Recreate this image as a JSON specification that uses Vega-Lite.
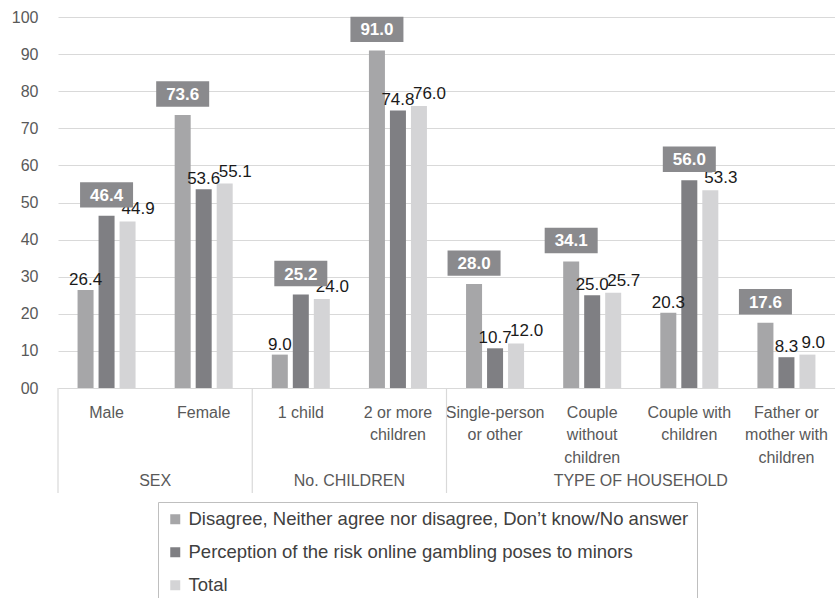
{
  "$schema": "https://vega.github.io/schema/vega-lite/v6.json",
  "autosize": "none",
  "width": 777,
  "height": 371,
  "padding": {"left": 58, "top": 17, "right": 0, "bottom": 210},
  "background": "white",
  "config": {
    "view": {"stroke": null},
    "font": "Liberation Sans",
    "text": {"font": "Liberation Sans"},
    "axisY": {"tickCount": 11}
  },
  "datasets": {
    "bars": [
      {"cat": "Male", "series": "Disagree, Neither agree nor disagree, Don’t know/No answer", "v": 26.4},
      {"cat": "Male", "series": "Perception of the risk online gambling poses to minors", "v": 46.4},
      {"cat": "Male", "series": "Total", "v": 44.9},
      {"cat": "Female", "series": "Disagree, Neither agree nor disagree, Don’t know/No answer", "v": 73.6},
      {"cat": "Female", "series": "Perception of the risk online gambling poses to minors", "v": 53.6},
      {"cat": "Female", "series": "Total", "v": 55.1},
      {"cat": "1 child", "series": "Disagree, Neither agree nor disagree, Don’t know/No answer", "v": 9.0},
      {"cat": "1 child", "series": "Perception of the risk online gambling poses to minors", "v": 25.2},
      {"cat": "1 child", "series": "Total", "v": 24.0},
      {"cat": "2 or more|children", "series": "Disagree, Neither agree nor disagree, Don’t know/No answer", "v": 91.0},
      {"cat": "2 or more|children", "series": "Perception of the risk online gambling poses to minors", "v": 74.8},
      {"cat": "2 or more|children", "series": "Total", "v": 76.0},
      {"cat": "Single-person|or other", "series": "Disagree, Neither agree nor disagree, Don’t know/No answer", "v": 28.0},
      {"cat": "Single-person|or other", "series": "Perception of the risk online gambling poses to minors", "v": 10.7},
      {"cat": "Single-person|or other", "series": "Total", "v": 12.0},
      {"cat": "Couple|without|children", "series": "Disagree, Neither agree nor disagree, Don’t know/No answer", "v": 34.1},
      {"cat": "Couple|without|children", "series": "Perception of the risk online gambling poses to minors", "v": 25.0},
      {"cat": "Couple|without|children", "series": "Total", "v": 25.7},
      {"cat": "Couple with|children", "series": "Disagree, Neither agree nor disagree, Don’t know/No answer", "v": 20.3},
      {"cat": "Couple with|children", "series": "Perception of the risk online gambling poses to minors", "v": 56.0},
      {"cat": "Couple with|children", "series": "Total", "v": 53.3},
      {"cat": "Father or|mother with|children", "series": "Disagree, Neither agree nor disagree, Don’t know/No answer", "v": 17.6},
      {"cat": "Father or|mother with|children", "series": "Perception of the risk online gambling poses to minors", "v": 8.3},
      {"cat": "Father or|mother with|children", "series": "Total", "v": 9.0}
    ],
    "groups": [
      {"group": "SEX", "first": "Male", "mid": "Female"},
      {"group": "No. CHILDREN", "first": "1 child", "mid": "2 or more|children"},
      {"group": "TYPE OF HOUSEHOLD", "first": "Single-person|or other", "mid": "Couple with|children"}
    ]
  },
  "layer": [
    {
      "data": {"name": "bars"},
      "mark": {"type": "bar"},
      "encoding": {
        "x": {
          "field": "cat", "type": "nominal", "sort": null,
          "scale": {"paddingInner": 0, "paddingOuter": 0,
            "domain": ["Male", "Female", "1 child", "2 or more|children", "Single-person|or other", "Couple|without|children", "Couple with|children", "Father or|mother with|children"]},
          "axis": {
            "title": null, "labelAngle": 0, "domain": false, "ticks": false,
            "labelExpr": "split(datum.label, '|')",
            "labelFontSize": 16, "labelColor": "#595959", "labelPadding": 16,
            "labelLineHeight": 22.5, "labelLimit": 200, "labelFont": "Liberation Sans"
          }
        },
        "xOffset": {
          "field": "series", "type": "nominal", "sort": null,
          "scale": {"paddingInner": 0.238, "paddingOuter": 0.931,
            "domain": ["Disagree, Neither agree nor disagree, Don’t know/No answer", "Perception of the risk online gambling poses to minors", "Total"]}
        },
        "y": {
          "field": "v", "type": "quantitative",
          "scale": {"domain": [0, 100], "nice": false},
          "axis": {
            "title": null, "values": [0, 10, 20, 30, 40, 50, 60, 70, 80, 90, 100], "tickCount": 11,
            "labelExpr": "datum.value == 0 ? '00' : datum.label",
            "domain": false, "ticks": false, "labelPadding": 20, "labelOverlap": false,
            "labelFontSize": 16, "labelColor": "#595959", "labelFont": "Liberation Sans",
            "grid": true, "gridColor": "#d9d9d9", "gridWidth": 1.2
          }
        },
        "color": {
          "field": "series", "type": "nominal", "sort": null,
          "scale": {
            "domain": ["Disagree, Neither agree nor disagree, Don’t know/No answer", "Perception of the risk online gambling poses to minors", "Total"],
            "range": ["#a6a6a8", "#7f7f83", "#d4d4d6"]
          },
          "legend": {
            "title": null, "orient": "none", "direction": "vertical",
            "legendX": 100, "legendY": 485,
            "strokeColor": "#bfbfbf", "padding": 8,
            "symbolType": "square", "symbolSize": 100, "symbolStrokeWidth": 0,
            "labelFontSize": 18.5, "labelColor": "#404040", "labelFont": "Liberation Sans",
            "labelLimit": 700, "labelOffset": 4, "rowPadding": 14
          }
        }
      }
    },
    {
      "data": {"name": "bars"},
      "transform": [
        {"joinaggregate": [{"op": "max", "field": "v", "as": "mx"}], "groupby": ["cat"]},
        {"filter": "datum.v != datum.mx && datum.series != 'Total'"}
      ],
      "mark": {"type": "text", "baseline": "alphabetic", "align": "center", "dy": -5, "fontSize": 17, "color": "#1a1a1a"},
      "encoding": {
        "x": {"field": "cat", "type": "nominal", "sort": null},
        "xOffset": {"field": "series", "type": "nominal", "sort": null},
        "y": {"field": "v", "type": "quantitative"},
        "text": {"field": "v", "type": "quantitative", "format": ".1f"}
      }
    },
    {
      "data": {"name": "bars"},
      "transform": [
        {"joinaggregate": [{"op": "max", "field": "v", "as": "mx"}], "groupby": ["cat"]},
        {"filter": "datum.v != datum.mx && datum.series == 'Total'"}
      ],
      "mark": {"type": "text", "baseline": "alphabetic", "align": "left", "dx": -6, "dy": -7, "fontSize": 17, "color": "#1a1a1a"},
      "encoding": {
        "x": {"field": "cat", "type": "nominal", "sort": null},
        "xOffset": {"field": "series", "type": "nominal", "sort": null},
        "y": {"field": "v", "type": "quantitative"},
        "text": {"field": "v", "type": "quantitative", "format": ".1f"}
      }
    },
    {
      "data": {"name": "bars"},
      "transform": [
        {"joinaggregate": [{"op": "max", "field": "v", "as": "mx"}], "groupby": ["cat"]},
        {"filter": "datum.v == datum.mx"}
      ],
      "mark": {"type": "point", "shape": "M-1,-0.48H1V0.48H-1Z", "filled": true, "size": 2809, "color": "#8a8a8d", "opacity": 1, "yOffset": -21, "strokeWidth": 0},
      "encoding": {
        "x": {"field": "cat", "type": "nominal", "sort": null},
        "xOffset": {"field": "series", "type": "nominal", "sort": null},
        "y": {"field": "v", "type": "quantitative"}
      }
    },
    {
      "data": {"name": "bars"},
      "transform": [
        {"joinaggregate": [{"op": "max", "field": "v", "as": "mx"}], "groupby": ["cat"]},
        {"filter": "datum.v == datum.mx"}
      ],
      "mark": {"type": "text", "baseline": "middle", "align": "center", "yOffset": -20, "fontSize": 17, "fontWeight": "bold", "color": "white"},
      "encoding": {
        "x": {"field": "cat", "type": "nominal", "sort": null},
        "xOffset": {"field": "series", "type": "nominal", "sort": null},
        "y": {"field": "v", "type": "quantitative"},
        "text": {"field": "v", "type": "quantitative", "format": ".1f"}
      }
    },
    {
      "data": {"name": "groups"},
      "mark": {"type": "rule", "color": "#d9d9d9", "strokeWidth": 1.2},
      "encoding": {
        "x": {"field": "first", "type": "nominal", "bandPosition": 0, "sort": null},
        "y": {"datum": 0, "type": "quantitative"},
        "y2": {"datum": -28.3}
      }
    },
    {
      "data": {"name": "groups"},
      "mark": {"type": "text", "baseline": "middle", "align": "center", "fontSize": 16, "color": "#595959"},
      "encoding": {
        "x": {"field": "mid", "type": "nominal", "bandPosition": 0, "sort": null},
        "y": {"datum": -25, "type": "quantitative"},
        "text": {"field": "group"}
      }
    }
  ]
}
